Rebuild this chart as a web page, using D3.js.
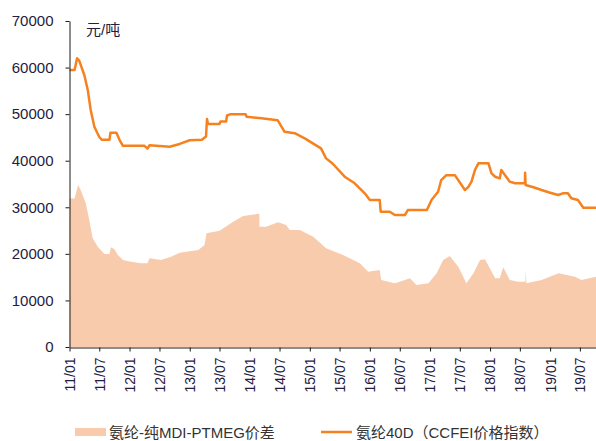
<!DOCTYPE html>
<html>
<head>
<meta charset="utf-8">
<script src="https://cdn.jsdelivr.net/npm/d3@7"></script>
<style>
  body { margin: 0; background: #fff; }
  svg text { font-family: "Liberation Sans", Arial, "Noto Sans CJK SC", sans-serif; }
</style>
</head>
<body>
<div id="chart"></div>
<script>
// spread: 氨纶-纯MDI-PTMEG价差
var spreadDates = ["2011-01-01","2011-02-01","2011-02-22","2011-03-10","2011-04-10","2011-05-01","2011-05-22","2011-06-22",
    "2011-08-01","2011-09-01","2011-09-10","2011-10-01","2011-10-22","2011-11-22","2012-01-10","2012-03-10","2012-04-19",
    "2012-05-01","2012-07-10","2012-09-10","2012-11-01","2013-02-22","2013-04-01","2013-04-13","2013-07-01","2013-09-22",
    "2013-11-22","2014-02-22","2014-02-28","2014-03-01","2014-04-10","2014-06-22","2014-08-10","2014-09-01","2014-11-01",
    "2015-01-22","2015-04-10","2015-07-22","2015-11-01","2015-12-22","2016-03-01","2016-03-10","2016-06-01","2016-07-01",
    "2016-09-01","2016-10-10","2016-12-22","2017-02-10","2017-03-22","2017-05-01","2017-06-22","2017-08-10","2017-09-22",
    "2017-11-01","2017-12-01","2018-02-01","2018-03-01","2018-03-22","2018-05-01","2018-06-22","2018-08-04","2018-08-05",
    "2018-08-10","2018-11-10","2019-02-22","2019-06-01","2019-07-10","2019-10-07"];
var spreadValues = [31900,31900,34780,33700,30850,27270,23340,21530,
    19970,19970,21400,21000,19750,18680,18320,17970,17970,
    19040,18680,19390,20250,20830,21900,24410,24970,26900,
    28120,28600,28600,25830,25830,26800,26190,25120,25120,
    23680,21190,19750,17970,16170,16530,14380,13670,14020,
    14750,13310,13670,15820,18680,19540,17240,13670,15820,
    18680,18830,14750,14750,17110,14380,14020,14000,16530,
    13670,14380,15820,15100,14380,15100];

// price: 氨纶40D（CCFEI价格指数）
var priceDates = ["2011-01-01","2011-02-01","2011-02-16","2011-03-01","2011-04-01","2011-04-22","2011-05-10","2011-06-01",
    "2011-07-01","2011-07-16","2011-09-01","2011-09-07","2011-10-13","2011-11-01","2011-11-22","2012-04-01","2012-04-19",
    "2012-05-01","2012-09-01","2012-11-01","2013-01-01","2013-03-16","2013-04-10","2013-04-16","2013-04-22","2013-07-01",
    "2013-07-07","2013-08-10","2013-08-16","2013-09-07","2013-12-07","2013-12-13","2014-03-13","2014-06-19","2014-08-01",
    "2014-10-01","2014-12-01","2015-03-10","2015-04-10","2015-05-19","2015-08-01","2015-10-01","2015-12-01","2016-01-01",
    "2016-03-01","2016-03-07","2016-05-01","2016-06-01","2016-08-01","2016-08-19","2016-12-13","2017-01-10","2017-02-19",
    "2017-03-10","2017-04-10","2017-06-01","2017-08-01","2017-08-22","2017-09-10","2017-10-01","2017-10-22","2017-12-22",
    "2018-01-10","2018-02-01","2018-03-01","2018-03-10","2018-04-01","2018-05-01","2018-06-01","2018-08-01","2018-08-02",
    "2018-08-05","2018-09-22","2018-11-10","2019-01-01","2019-02-19","2019-03-19","2019-04-19","2019-05-10","2019-06-19",
    "2019-07-22","2019-10-07"];
var priceValues = [59500,59500,62000,61500,58400,55200,50900,47300,
    45100,44500,44500,46000,46000,44500,43200,43200,42600,
    43300,43000,43600,44400,44500,45200,48950,47900,47900,
    48400,48400,49700,50000,50000,49450,49100,48700,46200,
    45900,44800,42650,40500,39400,36570,35150,33000,31560,
    31560,29050,29050,28340,28340,29400,29400,31560,33340,
    35850,36900,36900,33700,34400,35500,38000,39440,39440,
    37280,36560,36220,38000,36930,35500,35150,35150,37420,
    34800,34290,33700,33130,32630,33000,33000,31930,31560,
    29900,29900];

var yTicks = [0,10000,20000,30000,40000,50000,60000,70000];
var xTickLabels = ["11/01","11/07","12/01","12/07","13/01","13/07","14/01","14/07","15/01",
    "15/07","16/01","16/07","17/01","17/07","18/01","18/07","19/01","19/07"];
var unitLabel = "元/吨";
var legendNames = ["氨纶-纯MDI-PTMEG价差", "氨纶40D（CCFEI价格指数）"];

var areaColor = "#F8CBAD", lineColor = "#F5821F", axisColor = "#1a1a1a", labelColor = "#1f2040";

var W = 596, H = 441;
var parse = d3.timeParse("%Y-%m-%d");
var spread = spreadDates.map((d, i) => ({date: parse(d), value: spreadValues[i]}));
var price = priceDates.map((d, i) => ({date: parse(d), value: priceValues[i]}));
var tickDates = xTickLabels.map(s => new Date(2000 + +s.slice(0, 2), +s.slice(3) - 1, 1));

var svg = d3.select("#chart").append("svg")
    .attr("width", W).attr("height", H);

var x = d3.scaleTime()
    .domain([parse("2011-01-01"), parse("2019-10-07")])
    .range([69.5, 596]);
var y = d3.scaleLinear()
    .domain([0, 70000])
    .range([347, 21]);

svg.append("path")
    .datum(spread)
    .attr("fill", areaColor)
    .attr("d", d3.area().x(d => x(d.date)).y0(y(0)).y1(d => y(d.value)));

svg.append("path")
    .datum(price)
    .attr("fill", "none")
    .attr("stroke", lineColor)
    .attr("stroke-width", 2.5)
    .attr("stroke-linejoin", "round")
    .attr("d", d3.line().x(d => x(d.date)).y(d => y(d.value)));

// y axis
var yAxis = svg.append("g")
    .attr("transform", "translate(69.5,0)")
    .call(d3.axisLeft(y).tickValues(yTicks).tickSize(4).tickSizeOuter(0).tickPadding(12).tickFormat(d3.format("d")));
yAxis.select(".domain").attr("stroke", axisColor);
yAxis.selectAll(".tick line").attr("stroke", axisColor);
yAxis.selectAll("text").attr("fill", labelColor).style("font-size", "15px");

// x axis, labels read bottom-to-top
var xAxis = svg.append("g")
    .attr("transform", "translate(0,347.5)")
    .call(d3.axisBottom(x).tickValues(tickDates).tickSize(4).tickSizeOuter(0)
        .tickFormat((d, i) => xTickLabels[i]));
xAxis.select(".domain").attr("stroke", axisColor);
xAxis.selectAll(".tick line").attr("stroke", axisColor);
xAxis.selectAll("text")
    .attr("fill", labelColor)
    .style("font-size", "14px")
    .attr("text-anchor", "end")
    .attr("transform", "rotate(-90)")
    .attr("x", -10)
    .attr("y", 0)
    .attr("dy", "0.35em");

svg.append("text")
    .attr("x", 86).attr("y", 35)
    .attr("fill", labelColor)
    .style("font-size", "15px")
    .text(unitLabel);

// legend
var legend = svg.append("g");
legend.append("rect")
    .attr("x", 75).attr("y", 428).attr("width", 31).attr("height", 8)
    .attr("fill", areaColor);
legend.append("text")
    .attr("x", 109).attr("y", 437.5)
    .attr("fill", "#333")
    .style("font-size", "15px")
    .text(legendNames[0]);
legend.append("line")
    .attr("x1", 321).attr("x2", 352).attr("y1", 432).attr("y2", 432)
    .attr("stroke", lineColor).attr("stroke-width", 2.5);
legend.append("text")
    .attr("x", 356).attr("y", 437.5)
    .attr("fill", "#333")
    .style("font-size", "15px")
    .text(legendNames[1]);
</script>
</body>
</html>
